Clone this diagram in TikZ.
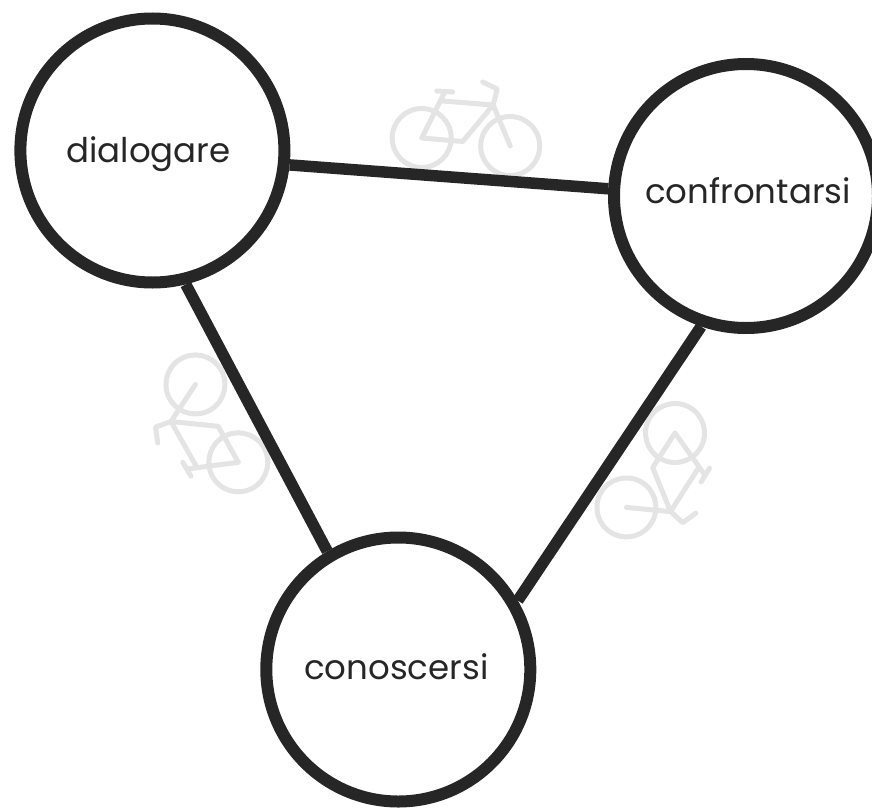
\documentclass[tikz,border=0pt]{standalone}
\usepackage{fontspec}
\setmainfont{Poppins}
\definecolor{linegray}{HTML}{262626}
\definecolor{bikegray}{HTML}{E4E4E4}
\tikzset{
  topic/.style={circle,draw=linegray,line width=12pt,minimum size=264pt,inner sep=0pt,text depth=0pt,font=\fontsize{34}{40}\selectfont,text=linegray},
  link/.style={draw=linegray,line width=11.5pt},
  bike/.pic={
    \draw[bikegray,line width=5pt,line cap=round,line join=round]
      (0,0) circle (29.5) (88.5,8) circle (29.5)
      (0,0) -- (41,3.5) -- (71.5,-33) -- (21,-37)
      (0,0) -- (23,-46) (15,-47) -- (31,-46)
      (61,-56) -- (75.5,-49) -- (71.5,-33) -- (88.5,8);
  }
}
\begin{document}
\begin{tikzpicture}[x=1pt,y=-1pt]
  \useasboundingbox (0,0) rectangle (872,808);

  \pic at (421.7,138) {bike};
  \pic[rotate=124] at (238.3,462.3) {bike};
  \pic[rotate=-118] at (675,433) {bike};

  \node[topic,text height=23pt] (dialogare)    at (152.4,150.5) {\kern-8pt dialogare};
  \node[topic,text height=14pt] (confrontarsi) at (746,196)     {\kern4pt confrontarsi};
  \node[topic,text height=19pt] (conoscersi)   at (398.3,669.5) {\kern-4pt conoscersi};

  \path [link]
        (dialogare.-6.7) edge (confrontarsi.177)
        (dialogare.-76.4)  edge (conoscersi.121.7)
        (confrontarsi.251.4) edge (conoscersi.30.5);
\end{tikzpicture}
\end{document}
